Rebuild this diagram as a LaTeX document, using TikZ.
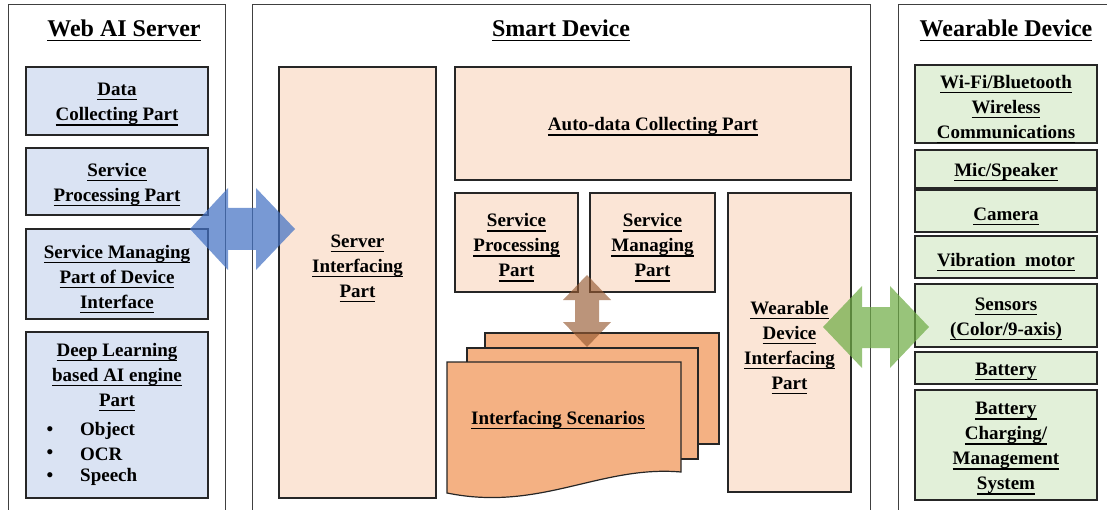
\documentclass[tikz,border=0pt]{standalone}
\usepackage{fontspec}
\setmainfont{Liberation Serif}[BoldFont={Liberation Serif Bold}]
\newsavebox\ulbox
\newcommand\U[1]{\sbox\ulbox{#1}\leavevmode\rlap{\usebox\ulbox}\smash{\rule[-4.6pt]{\wd\ulbox}{1.1pt}}}
\newcommand\Up{\rule{0pt}{19pt}}
\definecolor{bluefill}{RGB}{218,227,243}
\definecolor{orangefill}{RGB}{251,229,214}
\definecolor{greenfill}{RGB}{226,240,217}
\definecolor{scenfill}{RGB}{244,177,131}
\definecolor{bluearrow}{RGB}{68,114,196}
\definecolor{greenarrow}{RGB}{112,173,71}
\definecolor{brownarrow}{RGB}{150,90,50}
\begin{document}
\begin{tikzpicture}[x=1pt,y=-1pt,
  panel/.style={draw=black!75, line width=1pt},
  title/.style={font=\fontsize{24}{28}\selectfont\bfseries},
  part/.style={draw=black!85, line width=1.2pt, inner sep=0pt, align=center,
     font=\fontsize{19}{25}\selectfont\bfseries},
  txt/.style={inner sep=0pt, align=center, font=\fontsize{19}{25}\selectfont\bfseries},
  bluebox/.style={part, fill=bluefill},
  orbox/.style={part, fill=orangefill},
  grbox/.style={part, fill=greenfill},
  scen/.style={draw=black!85, line width=1.2pt, fill=scenfill},
  blockarrow/.style={opacity=0.72}
]
\useasboundingbox (0,0) rectangle (1107,510);
% panels
\draw[panel] (8,515) -- (8,5) -- (225,5) -- (225,515);
\draw[panel] (252,515) -- (252,5) -- (870,5) -- (870,515);
\draw[panel] (898,515) -- (898,5) -- (1112,5);
\node[title] (tweb) at (124,28) {\U{Web AI Server}};
\node[title] (tsmart) at (561,28) {\U{Smart Device}};
\node[title] (twear) at (1006,28) {\U{Wearable Device}};

% Web AI server parts
\node[bluebox, minimum width=182, minimum height=68] (d1) at (117,101) {\Up\U{Data}\\\U{Collecting Part}};
\node[bluebox, minimum width=182, minimum height=67] (d2) at (117,181.5) {\Up\U{Service}\\\U{Processing Part}};
\node[bluebox, minimum width=182, minimum height=90] (d3) at (117,274) {\Up\U{Service Managing}\\\U{Part of Device}\\\U{Interface}};
\node[bluebox, minimum width=182, minimum height=166] (d4) at (117,415) {};
\node[txt] (d4t) at (117,375) {\U{Deep Learning}\\\U{based AI engine}\\\U{Part}};
\node[txt] (b1) at (50,431) {\textbullet};
\node[txt] (b2) at (50,454) {\textbullet};
\node[txt] (b3) at (50,477) {\textbullet};
\node[txt, anchor=west] (i1) at (80,431) {Object};
\node[txt, anchor=west] (i2) at (80,454) {OCR};
\node[txt, anchor=west] (i3) at (80,477) {Speech};

% Smart device parts
\node[orbox, minimum width=157, minimum height=431] (sint) at (357.5,282.5) {};
\node[txt] (sintt) at (357.5,266) {\U{Server}\\\U{Interfacing}\\\U{Part}};
\node[orbox, minimum width=396, minimum height=113] (auto) at (653,123.5) {\Up\U{Auto-data Collecting Part}};
\node[orbox, minimum width=123, minimum height=99] (sproc) at (516.5,242.5) {\Up\U{Service}\\\U{Processing}\\\U{Part}};
\node[orbox, minimum width=125, minimum height=99] (sman) at (652.5,242.5) {\Up\U{Service}\\\U{Managing}\\\U{Part}};
\node[orbox, minimum width=123, minimum height=299] (wdi) at (789.5,342.5) {\Up\U{Wearable}\\\U{Device}\\\U{Interfacing}\\\U{Part}};

% Interfacing scenarios (stacked documents)
\draw[scen] (485,333) rectangle (719,444);
\draw[scen] (467,348) rectangle (698,459);
\draw[scen] (447,362) -- (681,362) -- (681,472) .. controls (600,465) and (540,512) .. (447,493) -- cycle;
\node[txt] (scent) at (558,420) {\U{Interfacing Scenarios}};

% Wearable device parts
\node[grbox, minimum width=182, minimum height=78] (w1) at (1006,104) {\Up\U{Wi-Fi/Bluetooth}\\\U{Wireless}\\\U{Communications}};
\node[grbox, minimum width=182, minimum height=38] (w2) at (1006,169) {\Up\U{Mic/Speaker}};
\node[grbox, minimum width=182, minimum height=42] (w3) at (1006,211) {\Up\U{Camera}};
\node[grbox, minimum width=182, minimum height=42] (w4) at (1006,257) {\Up\U{Vibration\ \ motor}};
\node[grbox, minimum width=182, minimum height=63] (w5) at (1006,315.5) {\Up\U{Sensors}\\\U{(Color/9-axis)}};
\node[grbox, minimum width=182, minimum height=32] (w6) at (1006,368) {\Up\U{Battery}};
\node[grbox, minimum width=182, minimum height=110] (w7) at (1006,445) {\Up\U{Battery}\\\U{Charging/}\\\U{Management}\\\U{System}};

% block arrows
\fill[bluearrow, blockarrow] (190,229) -- (228,188) -- (228,208) -- (256,208) -- (256,188) -- (295,229)
  -- (256,270) -- (256,250) -- (228,250) -- (228,270) -- cycle;
\fill[greenarrow, blockarrow] (823,327) -- (862,286) -- (862,307) -- (890,307) -- (890,286) -- (929,327)
  -- (890,368) -- (890,348) -- (862,348) -- (862,368) -- cycle;
\fill[brownarrow, opacity=0.65] (587,275) -- (611,300) -- (599,300) -- (599,322) -- (611,322) -- (587,347)
  -- (563,322) -- (575,322) -- (575,300) -- (563,300) -- cycle;
\end{tikzpicture}
\end{document}
